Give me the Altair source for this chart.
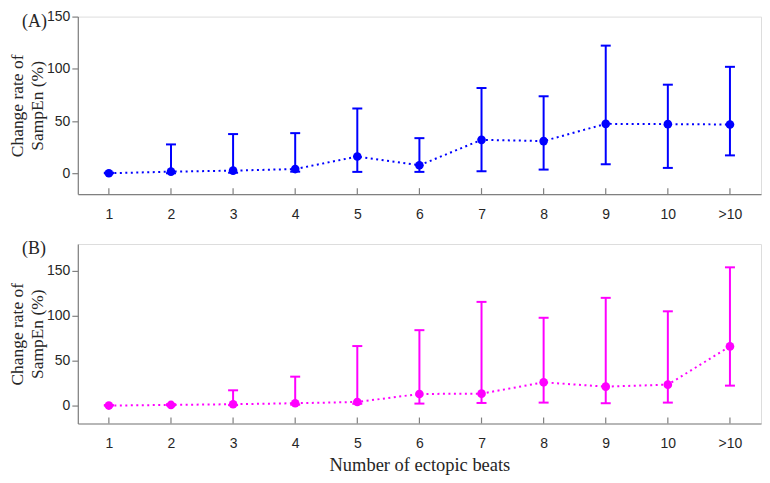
import altair as alt
import pandas as pd

categories = ["1", "2", "3", "4", "5", "6", "7", "8", "9", "10", ">10"]

a_mean = [0, 1.5, 2.5, 4, 16, 7.6, 32, 30.8, 47.3, 47, 46.7]
a_upper = [0.5, 27.6, 37.5, 38.4, 62, 33.6, 81.6, 73.7, 122.2, 84.8, 101.9]
a_lower = [0, 0, 0.5, 1.5, 1.3, 1.3, 1.9, 3.5, 8.6, 5.1, 17.1]

b_mean = [0, 0.7, 1.5, 2.6, 4, 12.9, 13.3, 25.9, 21.1, 23.3, 65.9]
b_upper = [0.5, 1.5, 17, 32.2, 66.3, 84, 115.5, 97.8, 120, 105, 154]
b_lower = [0, 0.3, 0.5, 1, 2, 2.2, 2.9, 3.3, 2.6, 3.3, 22.2]

y_title = ["Change rate of", "SampEn (%)"]
x_title = "Number of ectopic beats"

SERIF = "Liberation Serif"
SANS = "Liberation Sans"
W = 685


def panel(mean, upper, lower, color, ymin, ymax, label, show_xtitle, height):
    df = pd.DataFrame({"cat": categories, "mean": mean, "upper": upper, "lower": lower})
    xaxis = alt.Axis(
        ticks=False, tickSize=0, labelPadding=13, labelAngle=0,
        labelFont=SANS, labelFontSize=14, labelColor="#262626",
        domainColor="#808080", domainWidth=1.2, grid=False,
        titleFont=SERIF, titleFontSize=18.5, titleFontWeight="normal",
        titleColor="#262626", titlePadding=5,
    )
    xenc = alt.X(
        "cat:O", sort=categories,
        scale=alt.Scale(type="point", padding=0.5, domain=categories),
        axis=xaxis, title=x_title if show_xtitle else None,
    )
    yaxis = alt.Axis(
        values=[0, 50, 100, 150], tickSize=6, tickColor="#808080", tickWidth=1.2,
        labelPadding=2, labelFont=SANS, labelFontSize=14, labelColor="#262626",
        domainColor="#808080", domainWidth=1.2, grid=False,
        titleFont=SERIF, titleFontSize=17.5, titleFontWeight="normal",
        titleColor="#262626", titlePadding=3, titleLineHeight=20,
        minExtent=28, maxExtent=28,
    )
    yscale = alt.Scale(domain=[ymin, ymax], nice=False, zero=False)

    def Y(field):
        return alt.Y(field, type="quantitative", scale=yscale, axis=yaxis, title=y_title)

    base = alt.Chart(df).encode(x=xenc)
    rules = base.mark_rule(color=color, strokeWidth=2).encode(y=Y("lower"), y2="upper:Q")
    cap_up = base.mark_tick(color=color, thickness=2, size=10, opacity=1).encode(y=Y("upper"))
    cap_lo = base.mark_tick(color=color, thickness=2, size=10, opacity=1).encode(y=Y("lower"))
    line = base.mark_line(color=color, strokeDash=[2, 3.5], strokeWidth=2).encode(y=Y("mean"))
    pts = base.mark_circle(color=color, size=75, opacity=1).encode(y=Y("mean"))
    xticks = base.mark_rule(color="#808080", strokeWidth=1.2).encode(
        y=alt.value(height - 6), y2=alt.value(height)
    )
    lab = alt.Chart(pd.DataFrame({"t": [label]})).mark_text(
        font=SERIF, fontSize=18, align="left", baseline="middle", color="#262626"
    ).encode(text="t:N", x=alt.value(-56), y=alt.value(5))
    return alt.layer(xticks, rules, cap_up, cap_lo, line, pts, lab).properties(
        width=W, height=height
    )


pa = panel(a_mean, a_upper, a_lower, "#0000FF", -20, 150, "(A)", False, 178)
pb = panel(b_mean, b_upper, b_lower, "#FF00FF", -20, 180, "(B)", True, 180)

chart = alt.vconcat(pa, pb, spacing=17).properties(
    padding={"left": 0, "top": 0, "right": 0, "bottom": 0}
).configure_view(stroke=None).configure(background="white")

chart.save("out.html", embed_options={"renderer": "svg", "actions": False})
